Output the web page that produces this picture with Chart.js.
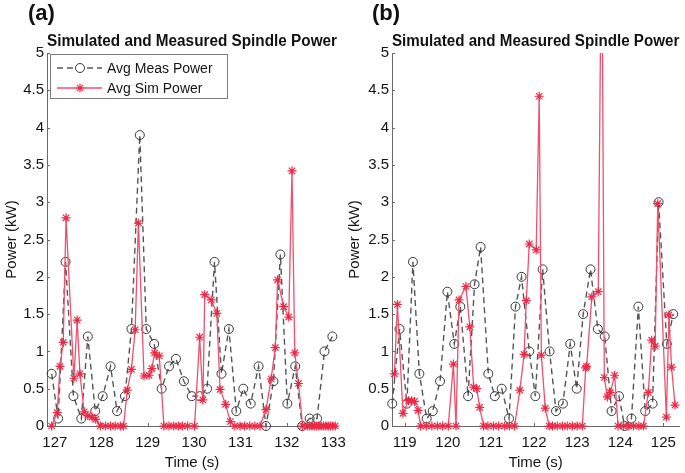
<!DOCTYPE html>
<html>
<head>
<meta charset="utf-8">
<title>Simulated and Measured Spindle Power</title>
<script src="https://cdn.jsdelivr.net/npm/chart.js@4.4.1/dist/chart.umd.min.js"></script>
<style>
  html, body { margin: 0; padding: 0; background: #fff; }
  #wrap { position: relative; width: 685px; height: 473px; overflow: hidden; font-family: "Liberation Sans", Arial, sans-serif; }
  canvas { position: absolute; top: 0; }
  .tag { position: absolute; top: 2px; font-weight: bold; font-size: 22px; line-height: 22px; color: #111; }
</style>
</head>
<body>
<div id="wrap">
  <canvas id="chartA" width="360" height="473" style="left:0"></canvas>
  <canvas id="chartB" width="342" height="473" style="left:343px"></canvas>
  <div class="tag" style="left:28px">(a)</div>
  <div class="tag" style="left:372px">(b)</div>
</div>
<script>
// ==================== DATA ====================
const titleText = 'Simulated and Measured Spindle Power';
const seriesLabels = ['Avg Meas Power', 'Avg Sim Power'];
const yTicks = [0, 0.5, 1, 1.5, 2, 2.5, 3, 3.5, 4, 4.5, 5];

// panel (a)
const xTicksA = [127, 128, 129, 130, 131, 132, 133];
const measTimeA = [126.93, 127.07, 127.23, 127.40, 127.57, 127.71, 127.87, 128.03, 128.20, 128.34,
                   128.51, 128.65, 128.83, 128.97, 129.14, 129.30, 129.46, 129.61, 129.78, 129.95,
                   130.12, 130.28, 130.44, 130.59, 130.75, 130.91, 131.06, 131.22, 131.39, 131.55,
                   131.71, 131.86, 132.01, 132.18, 132.33, 132.49, 132.65, 132.81, 132.98];
const measPowerA = [0.70, 0.10, 2.20, 0.40, 0.10, 1.20, 0.20, 0.40, 0.80, 0.20,
                    0.40, 1.30, 3.90, 1.30, 1.10, 0.50, 0.80, 0.90, 0.60, 0.40,
                    0.40, 0.50, 2.20, 0.70, 1.30, 0.20, 0.50, 0.30, 0.80, 0.00,
                    0.60, 2.30, 0.30, 0.80, 0.00, 0.10, 0.10, 1.00, 1.20];
const simTimeA = [126.93, 127.05, 127.11, 127.18, 127.24, 127.41, 127.48, 127.54, 127.63, 127.71,
                  127.80, 127.88, 127.98, 128.09, 128.20, 128.30, 128.41, 128.48, 128.56, 128.65,
                  128.73, 128.80, 128.92, 129.03, 129.09, 129.15, 129.25, 129.35, 129.46, 129.56,
                  129.66, 129.75, 129.86, 130.01, 130.12, 130.19, 130.23, 130.37, 130.49, 130.56,
                  130.68, 130.78, 130.88, 130.99, 131.09, 131.20, 131.31, 131.42, 131.55, 131.66,
                  131.75, 131.80, 131.93, 132.04, 132.11, 132.17, 132.25, 132.34, 132.44, 132.49,
                  132.54, 132.59, 132.64, 132.69, 132.74, 132.79, 132.84, 132.89, 132.94, 132.99,
                  133.04];
const simPowerA = [0.00, 0.18, 0.80, 1.12, 2.79, 0.64, 1.42, 0.70, 0.19, 0.14,
                   0.12, 0.09, 0.00, 0.00, 0.00, 0.00, 0.00, 0.00, 0.48, 0.76,
                   1.29, 2.72, 0.67, 0.68, 0.77, 0.98, 0.94, 0.00, 0.00, 0.00,
                   0.00, 0.00, 0.00, 0.00, 1.19, 0.35, 1.76, 1.69, 1.51, 0.49,
                   0.29, 0.06, 0.00, 0.00, 0.00, 0.00, 0.00, 0.00, 0.22, 0.63,
                   1.05, 1.96, 1.60, 1.46, 3.42, 0.98, 0.57, 0.00, 0.00, 0.00,
                   0.00, 0.00, 0.00, 0.00, 0.00, 0.00, 0.00, 0.00, 0.00, 0.00,
                   0.00];

// panel (b)
const xTicksB = [119, 120, 121, 122, 123, 124, 125];
const measTimeB = [118.71, 118.88, 119.05, 119.19, 119.34, 119.51, 119.65, 119.82, 119.99, 120.15,
                   120.29, 120.47, 120.62, 120.76, 120.94, 121.09, 121.25, 121.42, 121.57, 121.71,
                   121.89, 122.03, 122.20, 122.36, 122.51, 122.67, 122.84, 122.99, 123.14, 123.31,
                   123.48, 123.64, 123.80, 123.97, 124.10, 124.26, 124.42, 124.58, 124.75, 124.89,
                   125.08, 125.23];
const measPowerB = [0.30, 1.30, 0.30, 2.20, 0.70, 0.10, 0.20, 0.60, 1.80, 1.10,
                    1.60, 0.40, 1.90, 2.40, 0.70, 0.40, 0.50, 0.10, 1.60, 2.00,
                    1.00, 0.40, 2.10, 1.00, 0.20, 0.30, 1.10, 0.50, 1.50, 2.10,
                    1.30, 1.20, 0.20, 0.40, 0.00, 0.10, 1.60, 0.20, 0.30, 3.00,
                    1.10, 1.50];
const simTimeB = [118.76, 118.83, 118.96, 119.09, 119.16, 119.23, 119.31, 119.37, 119.50, 119.63,
                  119.76, 119.88, 120.01, 120.13, 120.19, 120.26, 120.42, 120.51, 120.60, 120.67,
                  120.74, 120.83, 120.93, 121.06, 121.18, 121.32, 121.43, 121.55, 121.67, 121.77,
                  121.82, 121.89, 122.05, 122.12, 122.17, 122.26, 122.35, 122.43, 122.54, 122.66,
                  122.77, 122.89, 123.00, 123.12, 123.20, 123.22, 123.34, 123.49, 123.57, 123.63,
                  123.70, 123.77, 123.87, 123.95, 124.08, 124.20, 124.31, 124.43, 124.54, 124.65,
                  124.73, 124.81, 124.87, 125.07, 125.13, 125.19, 125.27];
const simPowerB = [0.70, 1.63, 0.17, 0.34, 0.34, 0.33, 0.21, 0.00, 0.00, 0.00,
                   0.00, 0.00, 0.00, 0.83, 0.00, 1.69, 1.87, 1.33, 0.52, 0.50,
                   0.25, 0.00, 0.00, 0.00, 0.00, 0.00, 0.00, 0.00, 0.48, 0.96,
                   1.68, 2.44, 2.36, 4.42, 0.95, 0.24, 0.00, 0.00, 0.00, 0.00,
                   0.00, 0.00, 0.00, 0.00, 0.78, 0.80, 1.73, 1.80, 7.00, 0.65,
                   0.39, 0.45, 0.68, 0.00, 0.00, 0.00, 0.00, 0.00, 0.00, 0.45,
                   1.15, 1.07, 2.98, 0.12, 1.49, 0.79, 0.28];

// ==================== STYLE ====================
const FONT = '"Liberation Sans", Arial, sans-serif';
const axisColor = '#6a6a6a';
const textColor = '#151515';
const measColor = '#555555';
const simLineColor = '#f0506c';
const simMarkColor = '#ee2744';

// ==================== HELPERS ====================
function toPoints(xs, ys) {
    return xs.map((x, i) => ({x: x, y: ys[i]}));
}

function fixedTicks(list) {
    return scale => { scale.ticks = list.map(v => ({value: v})); };
}

// MATLAB-like ticks drawn inward from the axis lines
const innerTicks = {
    id: 'innerTicks',
    beforeDatasetsDraw(chart) {
        const {ctx, chartArea, scales} = chart;
        ctx.save();
        ctx.strokeStyle = axisColor;
        ctx.lineWidth = 1;
        ctx.beginPath();
        scales.x.ticks.forEach(t => {
            const px = Math.round(scales.x.getPixelForValue(t.value)) + 0.5;
            ctx.moveTo(px, chartArea.bottom);
            ctx.lineTo(px, chartArea.bottom - 3);
        });
        scales.y.ticks.forEach(t => {
            const py = Math.round(scales.y.getPixelForValue(t.value)) + 0.5;
            ctx.moveTo(chartArea.left, py);
            ctx.lineTo(chartArea.left + 3, py);
        });
        ctx.stroke();
        ctx.restore();
    }
};

function drawMarker(ctx, style, x, y, r) {
    ctx.beginPath();
    if (style === 'circle') {
        ctx.arc(x, y, r, 0, Math.PI * 2);
    } else {
        const d = r * Math.SQRT1_2;
        ctx.moveTo(x - r, y); ctx.lineTo(x + r, y);
        ctx.moveTo(x, y - r); ctx.lineTo(x, y + r);
        ctx.moveTo(x - d, y - d); ctx.lineTo(x + d, y + d);
        ctx.moveTo(x - d, y + d); ctx.lineTo(x + d, y - d);
    }
    ctx.stroke();
}

// boxed legend sitting inside the top-left corner of the axes
const boxLegend = {
    id: 'boxLegend',
    afterDraw(chart) {
        const {ctx, chartArea} = chart;
        const x0 = chartArea.left + 3, y0 = chartArea.top + 1, w = 177, h = 44;
        ctx.save();
        ctx.fillStyle = '#fff';
        ctx.fillRect(x0, y0, w, h);
        ctx.strokeStyle = '#7a7a7a';
        ctx.lineWidth = 1;
        ctx.strokeRect(x0 + 0.5, y0 + 0.5, w, h);
        chart.data.datasets.forEach((ds, i) => {
            const yy = y0 + 14 + i * 20;
            ctx.strokeStyle = ds.borderColor;
            ctx.lineWidth = ds.borderWidth;
            ctx.setLineDash(ds.borderDash || []);
            ctx.beginPath();
            ctx.moveTo(x0 + 7, yy);
            ctx.lineTo(x0 + 52, yy);
            ctx.stroke();
            ctx.setLineDash([]);
            if (ds.borderDash) {
                // dashed sample leaves a gap around the circle
                ctx.fillStyle = '#fff';
                ctx.fillRect(x0 + 24, yy - 6, 12, 12);
            }
            ctx.strokeStyle = ds.pointBorderColor;
            ctx.lineWidth = ds.pointBorderWidth;
            drawMarker(ctx, ds.pointStyle, x0 + 30, yy, ds.pointRadius);
            ctx.fillStyle = textColor;
            ctx.font = '14px ' + FONT;
            ctx.textBaseline = 'middle';
            ctx.fillText(ds.label, x0 + 57, yy + 1);
        });
        ctx.restore();
    }
};

function makeDatasets(measT, measP, simT, simP) {
    const clip = {left: 6, right: 6, top: 0, bottom: 6};
    return [{
        label: seriesLabels[0],
        data: toPoints(measT, measP),
        borderColor: measColor,
        borderWidth: 1.4,
        borderDash: [6, 4],
        pointStyle: 'circle',
        pointRadius: 4.5,
        pointBorderColor: '#383838',
        pointBorderWidth: 1,
        pointBackgroundColor: 'rgba(0,0,0,0)',
        order: 1,
        clip: clip
    }, {
        label: seriesLabels[1],
        data: toPoints(simT, simP),
        borderColor: simLineColor,
        borderWidth: 1.3,
        pointStyle: 'star',
        pointRadius: 4.5,
        pointBorderColor: simMarkColor,
        pointBorderWidth: 1.2,
        pointBackgroundColor: simMarkColor,
        order: 0,
        clip: clip
    }];
}

function makeChart(id, datasets, xMin, xMax, xTicks, yWidth, padRight, withLegend) {
    return new Chart(document.getElementById(id), {
        type: 'line',
        data: {datasets},
        plugins: withLegend ? [innerTicks, boxLegend] : [innerTicks],
        options: {
            responsive: false,
            animation: false,
            layout: {padding: {top: 0, right: padRight, bottom: 0, left: 0}},
            plugins: {
                legend: {display: false},
                tooltip: {enabled: false},
                title: {
                    display: true,
                    text: titleText,
                    fullSize: false,
                    color: '#111',
                    font: {family: FONT, size: 16, weight: 'bold'},
                    padding: {top: 32, bottom: 1.8}
                }
            },
            scales: {
                x: {
                    type: 'linear',
                    min: xMin,
                    max: xMax,
                    afterBuildTicks: fixedTicks(xTicks),
                    afterFit: s => { s.height = 47; },
                    grid: {display: false, drawTicks: false},
                    border: {display: true, color: axisColor, width: 1},
                    ticks: {padding: 8, color: textColor, font: {family: FONT, size: 15}, callback: v => String(v)},
                    title: {display: true, text: 'Time (s)', color: textColor,
                            font: {family: FONT, size: 15}, padding: {top: 0, bottom: 1}}
                },
                y: {
                    min: 0,
                    max: 5,
                    afterBuildTicks: fixedTicks(yTicks),
                    afterFit: s => { s.width = yWidth; },
                    grid: {display: false, drawTicks: false},
                    border: {display: true, color: axisColor, width: 1},
                    ticks: {padding: 3, color: textColor, font: {family: FONT, size: 15}, callback: v => String(v)},
                    title: {display: true, text: 'Power (kW)', color: textColor,
                            font: {family: FONT, size: 15}, padding: {top: 3, bottom: 0}}
                }
            }
        }
    });
}

// ==================== INITIALIZE ====================
makeChart('chartA', makeDatasets(measTimeA, measPowerA, simTimeA, simPowerA),
          126.83, 133.08, xTicksA, 47, 23, true);
makeChart('chartB', makeDatasets(measTimeB, measPowerB, simTimeB, simPowerB),
          118.705, 125.37, xTicksB, 49, 5, false);
</script>
</body>
</html>
